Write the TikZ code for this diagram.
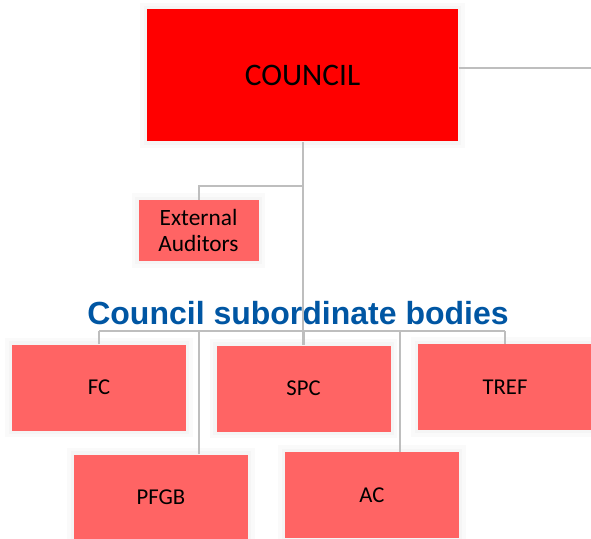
\documentclass[tikz,border=0pt]{standalone}
\usepackage{fontspec}
\setmainfont{Carlito}
\newfontfamily\titlefont{Liberation Sans}
\usepackage{tikz}
\definecolor{councilred}{RGB}{255,0,0}
\definecolor{bodyred}{RGB}{255,100,100}
\definecolor{linkgray}{RGB}{190,190,190}
\definecolor{titleblue}{RGB}{0,86,163}
\tikzset{every picture/.style={line width=0.75pt}}
\tikzset{
  glow/.style={preaction={draw=black,opacity=0.02,line width=10pt},
               preaction={draw=black,opacity=0.02,line width=5pt}},
  bodybox/.style={glow,fill=bodyred,inner sep=0pt,minimum width=130.5pt,minimum height=64.5pt,
                  font=\fontsize{17}{20}\selectfont},
  link/.style={draw=linkgray,line width=1.5pt}
}

\begin{document}
\begin{tikzpicture}[x=0.75pt,y=0.75pt,yscale=-1,xscale=1]
		\useasboundingbox (0,0) rectangle (591,538);
		
		%Shape: Rectangle [id:council]
		\node (council) [glow,fill=councilred,inner sep=0pt,minimum width=233.25pt,minimum height=99pt,
		      font=\fontsize{23.5}{28}\selectfont] at (302.5,75.5) {COUNCIL};
		%Shape: Rectangle [id:auditors]
		\node (auditors) [glow,fill=bodyred,inner sep=0pt,minimum width=90pt,minimum height=45.75pt,
		      align=center,font=\fontsize{17.5}{19.5}\selectfont] at (198.5,230.5) {External\\Auditors};
		
		%Shape: Rectangle [id:fc]
		\node (fc) [bodybox] at (99,387.5) {FC};
		%Shape: Rectangle [id:spc]
		\node (spc) [bodybox] at (303.5,388.5) {SPC};
		%Shape: Rectangle [id:tref]
		\node (tref) [bodybox] at (505,387) {TREF};
		%Shape: Rectangle [id:pfgb]
		\node (pfgb) [bodybox] at (161,497.5) {PFGB};
		%Shape: Rectangle [id:ac]
		\node (ac) [bodybox] at (372,495) {AC};
		
		% Text Node
		\node (title) [anchor=base,text=titleblue,font=\titlefont\bfseries\fontsize{24}{28}\selectfont]
		      at (298,324) {Council subordinate bodies};
		
		\coordinate (right) at (591,68.5);
		\coordinate (bus) at (303,330.5);
		\coordinate (pfgbtop) at ([xshift=28.5pt]pfgb.north);
		\coordinate (actop) at ([xshift=21pt]ac.north);
		
		%Straight Lines [id:links]
		\draw [link] (council.east |- right) -- (right);
		\draw [link] (council.south) -- (council.south |- spc.north);
		\draw [link] (auditors.north) -- ++(0,-13.5) -| (council.south);
		\draw [link] (fc.north |- bus) -- (tref.north |- bus);
		\foreach \n in {fc,pfgbtop,spc.north,actop,tref}
		  \draw [link] (\n) -- (\n |- bus);
		
\end{tikzpicture}
\end{document}
